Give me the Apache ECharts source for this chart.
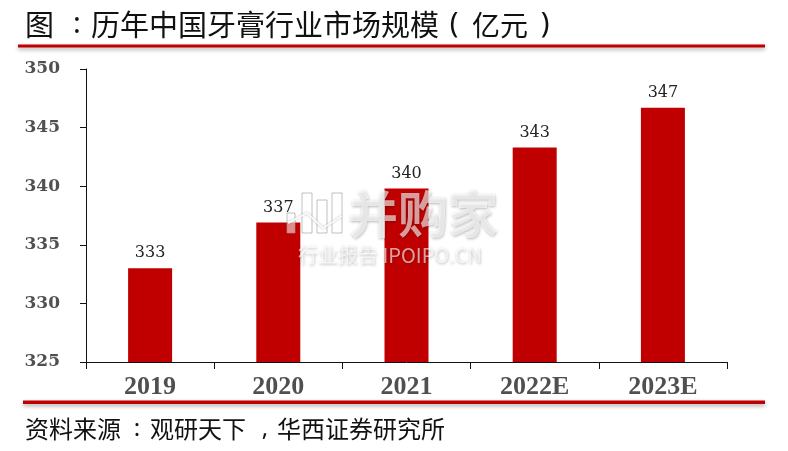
<!DOCTYPE html>
<html><head><meta charset="utf-8">
<script src="https://cdn.jsdelivr.net/npm/echarts@6/dist/echarts.min.js"></script>
<style>html,body{margin:0;padding:0;background:#fff}#c{width:788px;height:451px}</style>
</head><body><div id="c"></div>
<script>
const categories = ['2019','2020','2021','2022E','2023E'];
const values = [333.0, 336.9, 339.8, 343.3, 346.7];
const yTicks = [325, 330, 335, 340, 345, 350];
const titleParts = ['图', ':', '历年中国牙膏行业市场规模', '(', '亿元', ')'];
const sourceParts = ['资料来源', ':', '观研天下', ',', '华西证券研究所'];

const chart = echarts.init(document.getElementById('c'));
const cjk = '"Noto Sans CJK SC", sans-serif';
const serif = '"Liberation Serif", "Times New Roman", serif';
const dserif = '"DejaVu Serif", serif';

function txt(text, x, y, font, extra) {
  return Object.assign({type: 'text', z: 50, style: Object.assign({text: text, x: x, y: y, font: font, fill: '#111', textVerticalAlign: 'middle', textAlign: 'left'}, extra || {})});
}
const wmStyle = {fill: 'rgba(255,255,255,0.62)', textShadowColor: 'rgba(0,0,0,0.45)', textShadowBlur: 3, textShadowOffsetX: 0.5, textShadowOffsetY: 1};
const iconStyle = {fill: 'rgba(255,255,255,0.55)', stroke: 'rgba(150,150,150,0.6)', lineWidth: 1};

chart.setOption({
  animation: false,
  grid: {left: 86, right: 61, top: 69, bottom: 89},
  xAxis: {
    type: 'category', data: categories,
    axisLine: {lineStyle: {color: '#111', width: 1}},
    axisTick: {show: true, length: 7, lineStyle: {color: '#111'}},
    axisLabel: {margin: 12, fontFamily: serif, fontWeight: 'bold', fontSize: 26, color: '#505050'}
  },
  yAxis: {
    type: 'value', min: yTicks[0], max: yTicks[yTicks.length - 1], interval: 5,
    axisLine: {show: true, lineStyle: {color: '#111', width: 1}},
    axisTick: {show: true, length: 6, lineStyle: {color: '#111'}},
    splitLine: {show: false},
    axisLabel: {margin: 26, fontFamily: dserif, fontWeight: 'bold', fontSize: 17, color: '#505050'}
  },
  series: [{
    type: 'bar', data: values, barWidth: 44,
    itemStyle: {color: '#C00000'},
    label: {show: true, position: 'top', distance: 7, fontFamily: dserif, fontSize: 16, color: '#222',
      formatter: p => Math.round(p.value)}
  }],
  graphic: [
    txt(titleParts[0], 25, 25, '29px ' + cjk),
    txt(titleParts[1], 77, 25, '29px "Noto Sans", sans-serif', {textAlign: 'center'}),
    txt(titleParts[2], 91, 25, '29px ' + cjk),
    txt(titleParts[3], 454, 25, '29px "Noto Sans", sans-serif', {textAlign: 'center'}),
    txt(titleParts[4], 472, 25, '28px ' + cjk),
    txt(titleParts[5], 545, 25, '29px "Noto Sans", sans-serif', {textAlign: 'center'}),
    {type: 'rect', shape: {x: 18, y: 44.5, width: 747, height: 3}, style: {fill: '#C00000', shadowColor: 'rgba(0,0,0,0.35)', shadowBlur: 4, shadowOffsetY: 2}},
    {type: 'rect', shape: {x: 23, y: 400.5, width: 742, height: 3.5}, style: {fill: '#C00000', shadowColor: 'rgba(0,0,0,0.35)', shadowBlur: 4, shadowOffsetY: 2}},
    txt(sourceParts[0], 25, 429, '24px ' + cjk),
    txt(sourceParts[1], 137, 429, '24px "Noto Sans", sans-serif', {textAlign: 'center'}),
    txt(sourceParts[2], 150, 429, '24px ' + cjk),
    txt(sourceParts[3], 265, 429, '24px "Noto Sans", sans-serif', {textAlign: 'center'}),
    txt(sourceParts[4], 277, 429, '24px ' + cjk),
    // watermark
    {type: 'rect', z: 100, shape: {x: 287, y: 213, width: 8, height: 20}, style: iconStyle},
    {type: 'rect', z: 100, shape: {x: 302, y: 193, width: 10, height: 40}, style: iconStyle},
    {type: 'rect', z: 100, shape: {x: 317, y: 200, width: 10, height: 33}, style: iconStyle},
    {type: 'rect', z: 100, shape: {x: 332, y: 193, width: 10, height: 40}, style: iconStyle},
    {type: 'polyline', z: 101, shape: {points: [[288, 223], [307, 213], [323, 228], [342, 216]]}, style: {stroke: 'rgba(255,255,255,0.9)', lineWidth: 2, fill: null, shadowColor: 'rgba(0,0,0,0.3)', shadowBlur: 2}},
    Object.assign(txt('并购家', 348, 214, 'bold 50px ' + cjk, wmStyle), {z: 100}),
    Object.assign(txt('行业报告 IPOIPO.CN', 298, 255, '20px ' + cjk, wmStyle), {z: 100})
  ]
});
</script></body></html>
